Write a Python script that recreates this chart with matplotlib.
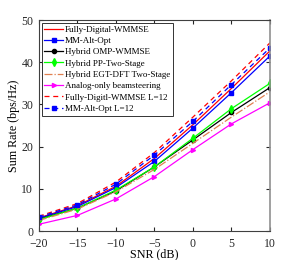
import numpy as np
import matplotlib
matplotlib.use('Agg')
import matplotlib.pyplot as plt

plt.rcParams['font.family'] = ['Liberation Serif', 'DejaVu Serif']

snr = [-20, -15, -10, -5, 0, 5, 10]
fd_wmmse = [3.1, 6.0, 10.6, 17.2, 25.2, 33.8, 42.7]
mm_alt = [3.0, 5.8, 10.3, 16.5, 24.4, 32.8, 41.5]
omp_wmmse = [2.8, 5.4, 9.5, 15.2, 21.6, 28.1, 34.0]
pp_two = [2.7, 5.4, 9.7, 15.2, 22.0, 29.0, 35.0]
egt_dft = [2.5, 5.2, 9.3, 14.6, 20.8, 27.0, 33.0]
analog = [1.6, 3.7, 7.6, 12.9, 19.3, 25.4, 30.4]
fd_l12 = [3.5, 6.5, 11.6, 18.6, 27.0, 35.6, 44.6]
mm_l12 = [3.3, 6.2, 11.1, 18.0, 26.0, 34.7, 43.4]

fig = plt.figure(figsize=(2.99, 2.6), dpi=100)
ax = fig.add_axes([0.130, 0.1115, 0.773, 0.8115])

lw = 0.9
ms = 3
ax.plot(snr, fd_wmmse, color='red', lw=lw, label='Fully-Digital-WMMSE')
ax.plot(snr, mm_alt, color='blue', lw=lw, marker='s', ms=ms, label='MM-Alt-Opt')
ax.plot(snr, omp_wmmse, color='black', lw=lw, marker='o', ms=ms, label='Hybrid OMP-WMMSE')
ax.plot(snr, pp_two, color='#00ff00', lw=lw, marker='d', ms=ms+1, label='Hybrid PP-Two-Stage')
ax.plot(snr, egt_dft, color='#e08050', lw=lw, ls='-.', label='Hybrid EGT-DFT Two-Stage')
ax.plot(snr, analog, color='magenta', lw=lw, marker='>', ms=ms, label='Analog-only beamsteering')
ax.plot(snr, fd_l12, color='red', lw=lw, ls=(0, (4, 3)), label='Fully-Digitl-WMMSE L=12')
ax.plot(snr, mm_l12, color='blue', lw=lw, ls=(0, (4, 3)), marker='s', ms=ms, label='MM-Alt-Opt L=12')

ax.set_xlim(-20, 10)
ax.set_ylim(0, 50)
ax.set_xticks(snr)
ax.set_yticks([0, 10, 20, 30, 40, 50])
ax.tick_params(direction='in', top=True, right=True, labelsize=8.5, length=3, colors='#262626')
ax.tick_params(axis='x', pad=5)
ax.tick_params(axis='y', pad=4)
for s in ax.spines.values():
    s.set_color('#404040')
    s.set_linewidth(0.8)
ax.spines['right'].set_color('#909090')
ax.spines['right'].set_linewidth(1.2)
ax.set_xlabel('SNR (dB)', fontsize=8.7, labelpad=-1)
ax.set_ylabel('Sum Rate (bps/Hz)', fontsize=8.7, labelpad=1)

leg = ax.legend(loc='upper left', fontsize=6.5, handlelength=2.1, handletextpad=0.2,
                labelspacing=0.33, borderpad=0.3, borderaxespad=0.3, fancybox=False,
                framealpha=1, edgecolor='#333333')
leg.get_frame().set_linewidth(0.7)

fig.savefig('out.png', dpi=100)
